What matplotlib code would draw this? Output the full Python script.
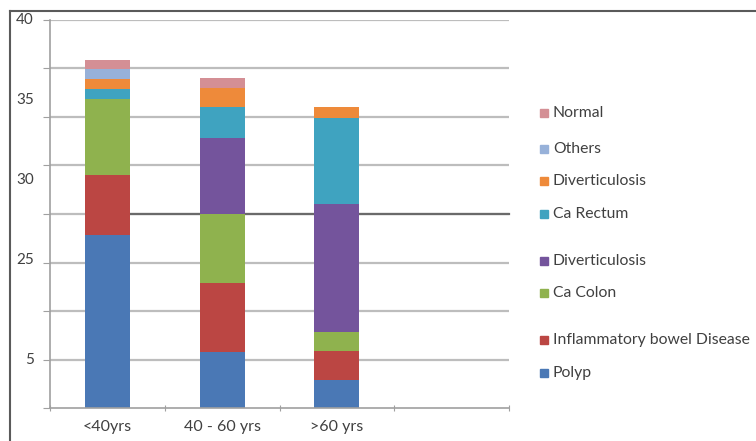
import numpy as np
import matplotlib
matplotlib.use('Agg')
import matplotlib.pyplot as plt
from matplotlib.lines import Line2D
from matplotlib.patches import Rectangle

plt.rcParams['font.family'] = ['Lato', 'DejaVu Sans']

# data ########################################################################
groups = ['<40yrs', '40 - 60 yrs', '>60 yrs']
series = ['Polyp', 'Inflammatory bowel Disease', 'Ca Colon', 'Diverticulosis',
          'Ca Rectum', 'Diverticulosis', 'Others', 'Normal']
polyp = [17.8, 5.8, 2.9]
ibd = [6.2, 7.1, 3.0]
ca_colon = [7.9, 7.1, 1.9]
divert_purple = [0.0, 7.8, 13.2]
ca_rectum = [1.0, 3.2, 8.9]
divert_orange = [1.0, 2.0, 1.1]
others = [1.0, 0.0, 0.0]
normal = [1.0, 1.0, 0.0]
values = [polyp, ibd, ca_colon, divert_purple, ca_rectum, divert_orange, others, normal]
colors = ['#4a78b5', '#bb4643', '#8fb24e', '#74549c', '#3fa3c0', '#ee8a3a', '#97b1d9', '#d48f95']
ytick_labels = ['40', '35', '30', '25', '5']
###############################################################################

W, H = 756, 441
fig = plt.figure(figsize=(W / 100, H / 100), dpi=100)
# axes box in pixels: left 50, right 509, top 20, bottom 408
ax = fig.add_axes([50 / W, (H - 408) / H, 459 / W, 388 / H])
ax.set_xlim(-0.5, 3.5)
ax.set_ylim(0, 40)

grid_c = '#bdbdbd'
for v in np.arange(5, 41, 5):
    ax.axhline(v, color=grid_c, lw=1.6, zorder=0)
# darker line across the middle
ax.plot([0.2, 3.5], [20, 20], color='#6a6a6a', lw=1.6, zorder=0.5, clip_on=False)

x = np.arange(len(groups))
bottom = np.zeros(len(groups))
for vals, c in zip(values, colors):
    ax.bar(x, vals, width=0.39, bottom=bottom, color=c, edgecolor='none', zorder=2)
    bottom += np.array(vals)

for s in ['top', 'right']:
    ax.spines[s].set_visible(False)
ax.spines['left'].set_color('#a0a0a0')
ax.spines['bottom'].set_color('#a0a0a0')
ax.spines['left'].set_linewidth(1.2)
ax.spines['bottom'].set_linewidth(1.2)

ax.set_yticks(np.arange(0, 41, 5))
ax.set_yticklabels([])
ax.tick_params(axis='y', length=5, color='#a0a0a0')
ax.set_xticks(np.arange(-0.5, 3.6, 1))
ax.set_xticklabels([])
ax.tick_params(axis='x', length=4, color='#a0a0a0', direction='inout')
for xi, g in zip(x, groups):
    ax.text(xi, -2.0, g, ha='center', va='center', fontsize=11.5, color='#404040')

# y labels sit off the grid in the original
label_px = [20, 100, 180, 260, 360]
for lab, py in zip(ytick_labels, label_px):
    fig.text(34 / W, 1 - py / H, lab, ha='right', va='center', fontsize=11, color='#404040')

# legend, top entry first
leg_px = [373, 340, 293, 261, 214, 181, 149, 113]
for name, c, py in zip(series, colors, leg_px):
    fig.patches.append(Rectangle((540 / W, 1 - (py + 4) / H), 8 / W, 8 / H,
                                 transform=fig.transFigure, color=c))
    fig.text(553 / W, 1 - py / H, name, ha='left', va='center', fontsize=11.3, color='#404040')

# outer frame
fig.lines.append(Line2D([10 / W, 1], [1 - 11 / H, 1 - 11 / H], transform=fig.transFigure,
                        color='#5a5a5a', lw=1.5))
fig.lines.append(Line2D([10 / W, 10 / W], [1 - 11 / H, 0], transform=fig.transFigure,
                        color='#5a5a5a', lw=1.5))

fig.savefig('out.png', dpi=100)
